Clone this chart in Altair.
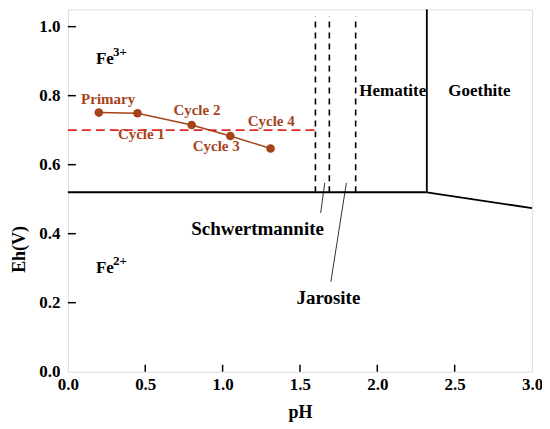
import altair as alt
import pandas as pd

# ---- data ----
points_ph = [0.20, 0.45, 0.80, 1.05, 1.31]
points_eh = [0.751, 0.749, 0.715, 0.683, 0.647]
cycle_labels = ["Primary", "Cycle 1", "Cycle 2", "Cycle 3", "Cycle 4"]
label_ph = [0.26, 0.475, 0.834, 0.959, 1.314]
label_eh = [0.775, 0.675, 0.745, 0.639, 0.712]

# solid phase boundaries
seg_x1 = [0.0, 2.32, 2.32]
seg_y1 = [0.52, 0.52, 0.52]
seg_x2 = [2.32, 3.0, 2.32]
seg_y2 = [0.52, 0.474, 1.05]

# dashed vertical boundaries
dash_ph = [1.60, 1.69, 1.86]
dash_eh_lo = [0.52, 0.52, 0.52]
dash_eh_hi = [1.03, 1.03, 1.03]

# red dashed reference line
red_ph = [0.0]
red_ph2 = [1.60]
red_eh = [0.70]

# leader lines
lead_x1 = [1.634, 1.70]
lead_y1 = [0.46, 0.261]
lead_x2 = [1.66, 1.80]
lead_y2 = [0.547, 0.547]

region_a = ["Hematite", "Goethite"]
region_a_ph = [2.10, 2.66]
region_a_eh = [0.80, 0.80]
region_b = ["Schwertmannite", "Jarosite"]
region_b_ph = [1.226, 1.684]
region_b_eh = [0.396, 0.197]

ion_base = ["Fe", "Fe"]
ion_ph = [0.181, 0.181]
ion_eh = [0.893, 0.286]
ion_sup = ["3+", "2+"]
ion_sup_ph = [0.292, 0.292]
ion_sup_eh = [0.916, 0.309]

x_ticks = [0.5, 1.0, 1.5, 2.0, 2.5]
y_ticks = [0.2, 0.4, 0.6, 0.8, 1.0]
x_labels = [0.0, 0.5, 1.0, 1.5, 2.0, 2.5, 3.0]
y_labels = [0.0, 0.2, 0.4, 0.6, 0.8, 1.0]

FONT = "Liberation Serif"
BROWN = "#A5441B"
W, H = 465, 363

xs = alt.Scale(domain=[0, 3], nice=False, zero=False)
ys = alt.Scale(domain=[0, 1.05], nice=False, zero=False)
xax = alt.Axis(title="pH", values=x_labels, format=".1f", domain=False, ticks=False,
               grid=False, labelPadding=5, labelFont=FONT, labelFontSize=17,
               labelFontWeight="bold", labelColor="black", titleFont=FONT,
               titleFontSize=18, titleFontWeight="bold", titleColor="black",
               titleY=46, titleBaseline="alphabetic", labelFlush=False)
yax = alt.Axis(title="Eh(V)", values=y_labels, format=".1f", domain=False, ticks=False,
               grid=False, labelPadding=8, labelFont=FONT, labelFontSize=17,
               labelFontWeight="bold", labelColor="black", titleFont=FONT,
               titleFontSize=18, titleFontWeight="bold", titleColor="black",
               titleX=-43, titleY=240, titleBaseline="alphabetic", labelFlush=False)


def X(f):
    return alt.X(f, type="quantitative", scale=xs, axis=xax)


def Y(f):
    return alt.Y(f, type="quantitative", scale=ys, axis=yax)


seg_df = pd.DataFrame({"x": seg_x1, "y": seg_y1, "x2": seg_x2, "y2": seg_y2})
segs = alt.Chart(seg_df).mark_rule(color="black", strokeWidth=1.8).encode(
    x=X("x"), y=Y("y"), x2="x2", y2="y2")

dash_df = pd.DataFrame({"x": dash_ph, "y": dash_eh_lo, "y2": dash_eh_hi})
dashes = alt.Chart(dash_df).mark_rule(color="black", strokeWidth=1.6,
                                      strokeDash=[6, 5]).encode(
    x=X("x"), y=Y("y"), y2="y2")

red_df = pd.DataFrame({"x": red_ph, "x2": red_ph2, "y": red_eh})
red = alt.Chart(red_df).mark_rule(color="#E5262A", strokeWidth=1.8,
                                  strokeDash=[9, 5]).encode(
    x=X("x"), x2="x2", y=Y("y"))

lead_df = pd.DataFrame({"x": lead_x1, "y": lead_y1, "x2": lead_x2, "y2": lead_y2})
leads = alt.Chart(lead_df).mark_rule(color="black", strokeWidth=0.8).encode(
    x=X("x"), y=Y("y"), x2="x2", y2="y2")

pts_df = pd.DataFrame({"x": points_ph, "y": points_eh, "o": list(range(5))})
line = alt.Chart(pts_df).mark_line(color=BROWN, strokeWidth=1.5).encode(
    x=X("x"), y=Y("y"), order="o:Q")
pts = alt.Chart(pts_df).mark_circle(color=BROWN, size=75, opacity=1).encode(
    x=X("x"), y=Y("y"))

lab_df = pd.DataFrame({"x": label_ph, "y": label_eh, "t": cycle_labels})
labs = alt.Chart(lab_df).mark_text(font=FONT, fontSize=15, fontWeight="bold",
                                   color=BROWN, baseline="alphabetic",
                                   align="center").encode(
    x=X("x"), y=Y("y"), text="t:N")

ra_df = pd.DataFrame({"x": region_a_ph, "y": region_a_eh, "t": region_a})
ra = alt.Chart(ra_df).mark_text(font=FONT, fontSize=17, fontWeight="bold",
                                color="black", baseline="alphabetic",
                                align="center").encode(
    x=X("x"), y=Y("y"), text="t:N")

rb_df = pd.DataFrame({"x": region_b_ph, "y": region_b_eh, "t": region_b})
rb = alt.Chart(rb_df).mark_text(font=FONT, fontSize=19, fontWeight="bold",
                                color="black", baseline="alphabetic",
                                align="center").encode(
    x=X("x"), y=Y("y"), text="t:N")

ion_df = pd.DataFrame({"x": ion_ph, "y": ion_eh, "t": ion_base})
ions = alt.Chart(ion_df).mark_text(font=FONT, fontSize=17, fontWeight="bold",
                                   color="black", baseline="alphabetic",
                                   align="left").encode(
    x=X("x"), y=Y("y"), text="t:N")

sup_df = pd.DataFrame({"x": ion_sup_ph, "y": ion_sup_eh, "t": ion_sup})
sups = alt.Chart(sup_df).mark_text(font=FONT, fontSize=13, fontWeight="bold",
                                   color="black", baseline="alphabetic",
                                   align="left").encode(
    x=X("x"), y=Y("y"), text="t:N")

xt_df = pd.DataFrame({"x": x_ticks})
xt = alt.Chart(xt_df).mark_rule(color="black", strokeWidth=1.5).encode(
    x=X("x"), y=alt.value(H), y2=alt.value(H - 7))

yt_df = pd.DataFrame({"y": y_ticks})
yt = alt.Chart(yt_df).mark_rule(color="black", strokeWidth=1.5).encode(
    y=Y("y"), x=alt.value(0), x2=alt.value(8))

chart = alt.layer(segs, dashes, red, leads, line, pts, labs, ra, rb, ions, sups, xt, yt).properties(
    width=W, height=H,
    autosize=alt.AutoSizeParams(type="none"),
    padding={"left": 60, "top": 1, "right": 10, "bottom": 50},
).configure_view(stroke="black", strokeWidth=2).configure(background="white")

chart.save("out.html", embed_options={"renderer": "svg", "actions": False})
